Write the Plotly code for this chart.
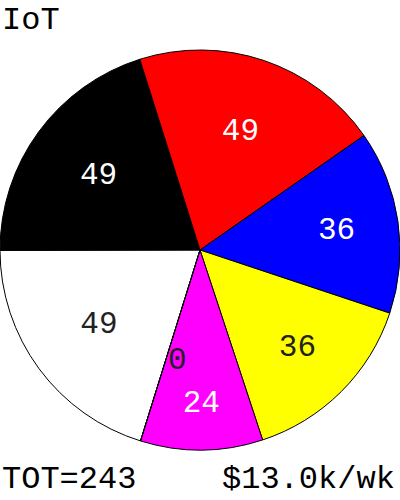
import math
import plotly.graph_objects as go

labels = ["A", "B", "C", "D", "E", "F", "G"]
values = [49, 49, 49, 36, 36, 24, 0]
colors = ["white", "black", "red", "blue", "yellow", "magenta", "cyan"]
text_colors = ["#222222", "white", "white", "white", "#222222", "white", "#222222"]
title_text = "IoT"
total_text = "TOT=243"
rate_text = "$13.0k/wk"

FONT = "Liberation Mono, Courier New, monospace"
ROTATION = 197.3
FS = 31
FS_TXT = 32

fig = go.Figure(go.Pie(
    labels=labels,
    values=values,
    sort=False,
    direction="clockwise",
    rotation=ROTATION,
    marker=dict(colors=colors, line=dict(color="black", width=1)),
    textinfo="value",
    textposition="inside",
    insidetextorientation="horizontal",
    insidetextfont=dict(family=FONT, size=FS, color=text_colors),
    showlegend=False,
    hoverinfo="label+value",
    domain=dict(x=[0, 1], y=[0, 1]),
))

# label for the zero-width slice(s): plotly draws those at scale 0, so place
# the value next to the slice edge, at an angle derived from the data
annotations = []
total = sum(values)
cum = 0.0
for v, tc in zip(values, text_colors):
    if v == 0:
        ang = math.radians(ROTATION + 360.0 * cum / total)
        r = 0.58 * 0.5
        annotations.append(dict(
            text=str(v), x=0.5 + r * math.sin(ang), y=0.5 + r * math.cos(ang),
            xref="paper", yref="paper", xanchor="left", yanchor="middle",
            showarrow=False, font=dict(family=FONT, size=FS, color=tc)))
    cum += v

annotations += [
    dict(text=title_text, x=0, y=1, xref="paper", yref="paper",
         xanchor="left", yanchor="top", yshift=50, showarrow=False,
         font=dict(family=FONT, size=FS_TXT, color="black")),
    dict(text=total_text, x=0, y=0, xref="paper", yref="paper",
         xanchor="left", yanchor="bottom", yshift=-50, showarrow=False,
         font=dict(family=FONT, size=FS_TXT, color="black")),
    dict(text=rate_text, x=1, y=0, xref="paper", yref="paper",
         xanchor="right", yanchor="bottom", yshift=-50, xshift=-3, showarrow=False,
         font=dict(family=FONT, size=FS_TXT, color="black")),
]

fig.update_layout(
    width=400, height=500,
    margin=dict(l=0, r=0, t=50, b=50),
    paper_bgcolor="white",
    plot_bgcolor="white",
    font=dict(family=FONT, size=FS, color="black"),
    annotations=annotations,
)

fig.write_html("out.html", config={"displayModeBar": False},
               post_script="document.body.style.margin='0';document.body.style.overflow='hidden';")
